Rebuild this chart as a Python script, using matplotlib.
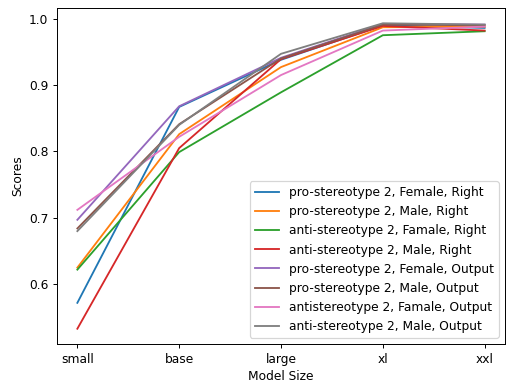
import matplotlib
matplotlib.use('Agg')
import matplotlib.pyplot as plt

sizes = ['small', 'base', 'large', 'xl', 'xxl']

labels = [
    'pro-stereotype 2, Female, Right',
    'pro-stereotype 2, Male, Right',
    'anti-stereotype 2, Famale, Right',
    'anti-stereotype 2, Male, Right',
    'pro-stereotype 2, Female, Output',
    'pro-stereotype 2, Male, Output',
    'antistereotype 2, Famale, Output',
    'anti-stereotype 2, Male, Output',
]

pro_f_right = [0.572, 0.867, 0.938, 0.990, 0.986]
pro_m_right = [0.625, 0.826, 0.927, 0.987, 0.988]
anti_f_right = [0.622, 0.799, 0.889, 0.975, 0.981]
anti_m_right = [0.533, 0.805, 0.939, 0.989, 0.982]
pro_f_output = [0.697, 0.868, 0.941, 0.992, 0.991]
pro_m_output = [0.684, 0.841, 0.940, 0.991, 0.990]
anti_f_output = [0.712, 0.822, 0.915, 0.982, 0.988]
anti_m_output = [0.680, 0.840, 0.947, 0.993, 0.991]

series = [pro_f_right, pro_m_right, anti_f_right, anti_m_right,
          pro_f_output, pro_m_output, anti_f_output, anti_m_output]

dpi = 88
fig = plt.figure(figsize=(506 / dpi, 385 / dpi), dpi=dpi)
ax = fig.add_axes([57 / 506, 1 - 344 / 385, 448 / 506, 336 / 385])

for vals, lab in zip(series, labels):
    ax.plot(sizes, vals, label=lab)

ax.set_xlabel('Model Size')
ax.set_ylabel('Scores')
ax.legend(loc='lower right')

fig.savefig('out.png', dpi=dpi)
